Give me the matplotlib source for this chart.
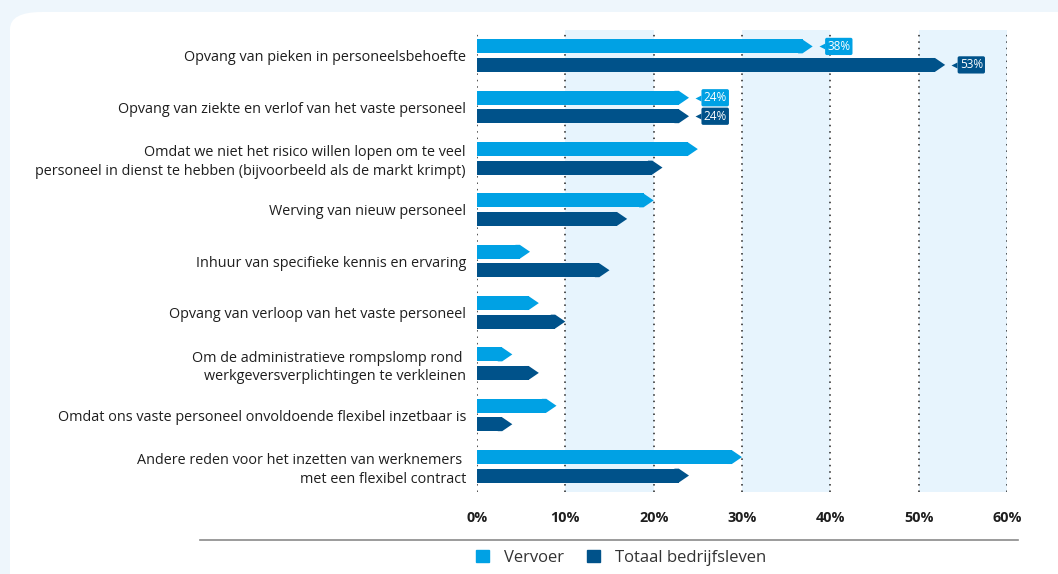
import matplotlib
matplotlib.use("Agg")
import matplotlib.pyplot as plt
from matplotlib.patches import Polygon, FancyBboxPatch, Rectangle
from matplotlib.lines import Line2D

categories = [
    "Opvang van pieken in personeelsbehoefte",
    "Opvang van ziekte en verlof van het vaste personeel",
    "Omdat we niet het risico willen lopen om te veel\npersoneel in dienst te hebben (bijvoorbeeld als de markt krimpt)",
    "Werving van nieuw personeel",
    "Inhuur van specifieke kennis en ervaring",
    "Opvang van verloop van het vaste personeel",
    "Om de administratieve rompslomp rond \nwerkgeversverplichtingen te verkleinen",
    "Omdat ons vaste personeel onvoldoende flexibel inzetbaar is",
    "Andere reden voor het inzetten van werknemers \nmet een flexibel contract",
]
vervoer = [38, 24, 25, 20, 6, 7, 4, 9, 30]
totaal = [53, 24, 21, 17, 15, 10, 7, 4, 24]
labeled_groups = [0, 1]
xticks = [0, 10, 20, 30, 40, 50, 60]
xtick_labels = ["0%", "10%", "20%", "30%", "40%", "50%", "60%"]
series_names = ["Vervoer", "Totaal bedrijfsleven"]

c_light = "#00a1e4"
c_dark = "#00528a"
band_col = "#e7f4fd"
FONT = "Open Sans"

fig = plt.figure(figsize=(10.58, 5.74), dpi=100)
fig.patch.set_facecolor("#eef6fc")
card = FancyBboxPatch((10 / 1058, -0.05), 1.2, (574 - 12) / 574 + 0.05,
                      boxstyle="round,pad=0,rounding_size=0.03",
                      transform=fig.transFigure, facecolor="white",
                      edgecolor="none", zorder=-10)
fig.patches.append(card)

ax = fig.add_axes([477 / 1058, 82 / 574, 530 / 1058, 462 / 574])
ax.set_facecolor("none")
ax.set_xlim(0, 60)
ax.set_ylim(8.5, -0.5)

for lo in (10, 30, 50):
    ax.axvspan(lo, lo + 10, color=band_col, zorder=0, lw=0)
for x in xticks:
    ax.axvline(x, color="#222222", lw=1.1, ls=(0, (1, 3.2)), zorder=1)

h = 0.27
off = 0.18
tip = 1.15
for i in range(len(categories)):
    for val, dy, col in ((vervoer[i], -off, c_light), (totaal[i], off, c_dark)):
        y = i + dy
        ax.barh(y, val - tip, height=h, left=0, color=col, zorder=3, lw=0)
        body_end = val - tip
        ax.add_patch(Polygon([(body_end - 0.5, y - h / 2), (body_end, y - h / 2), (val, y),
                              (body_end, y + h / 2), (body_end - 0.5, y + h / 2)],
                             closed=True, facecolor=col, edgecolor="none", zorder=3.5))
        if i in labeled_groups:
            ax.plot([val + 1.05], [y], marker="<", ms=4.5, color=col, mec="none", zorder=4)
            ax.text(val + 1.65, y, f"{val}%", ha="left", va="center", color="white",
                    fontsize=8.5, family=FONT, fontweight="medium", zorder=5,
                    bbox=dict(boxstyle="round,pad=0.18,rounding_size=0.15", fc=col, ec="none"))

ax.set_yticks(range(len(categories)))
ax.set_yticklabels(categories, fontsize=10.4, family=FONT, color="#1e1e1e", linespacing=1.3)
ax.set_xticks(xticks)
ax.set_xticklabels(xtick_labels, fontsize=10.4, fontweight="bold", family=FONT, color="#1e1e1e")
ax.tick_params(axis="y", length=0, pad=8)
ax.tick_params(axis="x", length=0, pad=14)
for s in ax.spines.values():
    s.set_visible(False)

fig.add_artist(Line2D([200 / 1058, 1018 / 1058], [1 - 540 / 574, 1 - 540 / 574],
                      transform=fig.transFigure, color="#8a8a8a", lw=1.2))

handles = [Rectangle((0, 0), 1, 1, color=c_light), Rectangle((0, 0), 1, 1, color=c_dark)]
fig.legend(handles, series_names, loc="center", bbox_to_anchor=(621 / 1058, 1 - 558 / 574),
           ncol=2, frameon=False, handlelength=0.75, handleheight=0.75, handletextpad=0.9,
           columnspacing=1.4, prop={"family": FONT, "size": 12}, labelcolor="#333333")

fig.savefig("out.png", dpi=100, facecolor=fig.get_facecolor())
